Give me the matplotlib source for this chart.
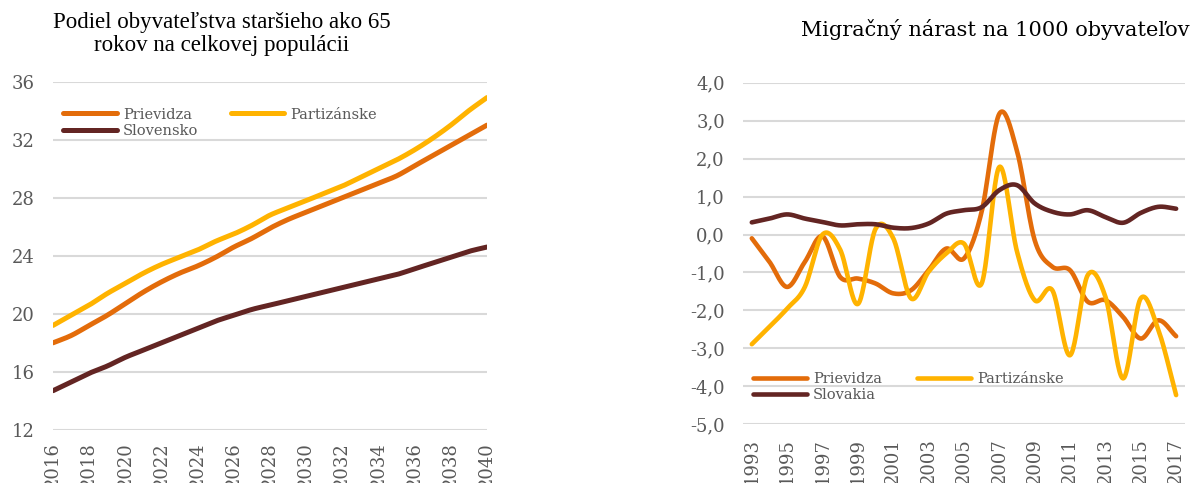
import numpy as np
import matplotlib.pyplot as plt

# --- data: share of population aged 65+ (projection) ---
years_left = list(range(2016, 2041))
prievidza_65 = [18.0, 18.5, 19.2, 19.9, 20.7, 21.5, 22.2, 22.8, 23.3, 23.9, 24.6, 25.2, 25.9,
                26.5, 27.0, 27.5, 28.0, 28.5, 29.0, 29.5, 30.2, 30.9, 31.6, 32.3, 33.0]
partizanske_65 = [19.2, 19.9, 20.6, 21.4, 22.1, 22.8, 23.4, 23.9, 24.4, 25.0, 25.5, 26.1, 26.8,
                  27.3, 27.8, 28.3, 28.8, 29.4, 30.0, 30.6, 31.3, 32.1, 33.0, 34.0, 34.9]
slovensko_65 = [14.7, 15.3, 15.9, 16.4, 17.0, 17.5, 18.0, 18.5, 19.0, 19.5, 19.9, 20.3, 20.6,
                20.9, 21.2, 21.5, 21.8, 22.1, 22.4, 22.7, 23.1, 23.5, 23.9, 24.3, 24.6]

# --- data: net migration per 1000 inhabitants ---
years_right = list(range(1993, 2018))
prievidza_mig = [-0.1, -0.72, -1.38, -0.72, -0.05, -1.12, -1.16, -1.29, -1.55, -1.47, -0.94, -0.37,
                 -0.63, 0.6, 3.18, 2.2, -0.15, -0.85, -0.94, -1.77, -1.73, -2.17, -2.74, -2.26, -2.68]
partizanske_mig = [-2.89, -2.43, -1.95, -1.38, 0.0, -0.4, -1.83, 0.15, -0.1, -1.68, -0.98, -0.5,
                   -0.24, -1.29, 1.78, -0.45, -1.73, -1.47, -3.18, -1.07, -1.64, -3.79, -1.68, -2.52, -4.23]
slovakia_mig = [0.32, 0.42, 0.53, 0.42, 0.33, 0.24, 0.27, 0.27, 0.18, 0.17, 0.29, 0.55, 0.64,
                0.72, 1.17, 1.3, 0.82, 0.6, 0.53, 0.64, 0.46, 0.31, 0.57, 0.73, 0.68]

ORANGE = "#E36C0A"
YELLOW = "#FFB300"
BROWN = "#632523"
GRAY = "#595959"
GRID = "#D9D9D9"
SERIF = ["DejaVu Serif"]


def smooth(x, y, n=24):
    # Catmull-Rom path through the points (like Excel "smoothed line")
    x = np.asarray(x, float)
    y = np.asarray(y, float)
    px = np.concatenate([[2 * x[0] - x[1]], x, [2 * x[-1] - x[-2]]])
    py = np.concatenate([[2 * y[0] - y[1]], y, [2 * y[-1] - y[-2]]])
    t = np.linspace(0, 1, n, endpoint=False)
    xs, ys = [], []
    for i in range(1, len(px) - 2):
        for p, out in ((px, xs), (py, ys)):
            p0, p1, p2, p3 = p[i - 1], p[i], p[i + 1], p[i + 2]
            out.extend(0.5 * (2 * p1 + (-p0 + p2) * t + (2 * p0 - 5 * p1 + 4 * p2 - p3) * t ** 2
                              + (-p0 + 3 * p1 - 3 * p2 + p3) * t ** 3))
    xs.append(x[-1])
    ys.append(y[-1])
    return xs, ys


def style(ax):
    for s in ax.spines.values():
        s.set_visible(False)
    ax.grid(axis="y", color=GRID, linewidth=1.5)
    ax.set_axisbelow(True)
    ax.tick_params(length=0, colors=GRAY, labelsize=13)
    for lab in ax.get_xticklabels() + ax.get_yticklabels():
        lab.set_family(SERIF)


fig = plt.figure(figsize=(11.92, 4.83), dpi=100)

# left chart
ax1 = fig.add_axes([0.0445, 0.110, 0.364, 0.721])
lw = 3.6
l1, = ax1.plot(*smooth(years_left, prievidza_65), color=ORANGE, lw=lw, solid_capstyle="round", label="Prievidza")
l2, = ax1.plot(*smooth(years_left, partizanske_65), color=YELLOW, lw=lw, solid_capstyle="round", label="Partizánske")
l3, = ax1.plot(*smooth(years_left, slovensko_65), color=BROWN, lw=lw, solid_capstyle="round", label="Slovensko")
ax1.set_xlim(2016, 2040)
ax1.set_ylim(12, 36)
ax1.set_yticks(range(12, 37, 4))
ax1.set_xticks(range(2016, 2041, 2))
ax1.set_xticklabels([str(y) for y in range(2016, 2041, 2)], rotation=90)
style(ax1)
ax1.tick_params(axis="y", pad=13)
ax1.tick_params(axis="x", pad=9)
leg1 = ax1.legend(handles=[l1, l3, l2], ncol=2, loc="upper left", bbox_to_anchor=(0.0, 0.955),
                  frameon=False, handlelength=3.7, handletextpad=0.4,
                  columnspacing=2.2, labelspacing=0.15, borderaxespad=0.3,
                  prop={"family": SERIF, "size": 10.5})
for t in leg1.get_texts():
    t.set_color(GRAY)

fig.text(0.186, 0.93, "Podiel obyvateľstva staršieho ako 65\nrokov na celkovej populácii",
         ha="center", va="center", fontsize=16.5, family=["Liberation Serif"], linespacing=1.15)

# right chart
ax2 = fig.add_axes([0.6233, 0.1215, 0.3708, 0.7073])
lw2 = 3.3
m1, = ax2.plot(*smooth(years_right, prievidza_mig), color=ORANGE, lw=lw2, solid_capstyle="round", label="Prievidza")
m2, = ax2.plot(*smooth(years_right, partizanske_mig), color=YELLOW, lw=lw2, solid_capstyle="round", label="Partizánske")
m3, = ax2.plot(*smooth(years_right, slovakia_mig), color=BROWN, lw=lw2, solid_capstyle="round", label="Slovakia")
ax2.set_xlim(1992.5, 2017.5)
ax2.set_ylim(-5, 4)
ax2.set_yticks(range(-5, 5))
ax2.set_yticklabels([f"{v:.1f}".replace(".", ",") for v in range(-5, 5)])
ax2.set_xticks(range(1993, 2018, 2))
ax2.set_xticklabels([str(y) for y in range(1993, 2018, 2)], rotation=90)
style(ax2)
ax2.tick_params(axis="y", pad=13)
ax2.tick_params(axis="x", pad=10)
leg2 = ax2.legend(handles=[m1, m3, m2], ncol=2, loc="lower left", bbox_to_anchor=(0.0, 0.035),
                  frameon=False, handlelength=3.7, handletextpad=0.4,
                  columnspacing=2.4, labelspacing=0.15, borderaxespad=0.3,
                  prop={"family": SERIF, "size": 10.5})
for t in leg2.get_texts():
    t.set_color(GRAY)

fig.text(0.8347, 0.938, "Migračný nárast na 1000 obyvateľov",
         ha="center", va="center", fontsize=15, family=SERIF)

plt.savefig("out.png", dpi=100)
